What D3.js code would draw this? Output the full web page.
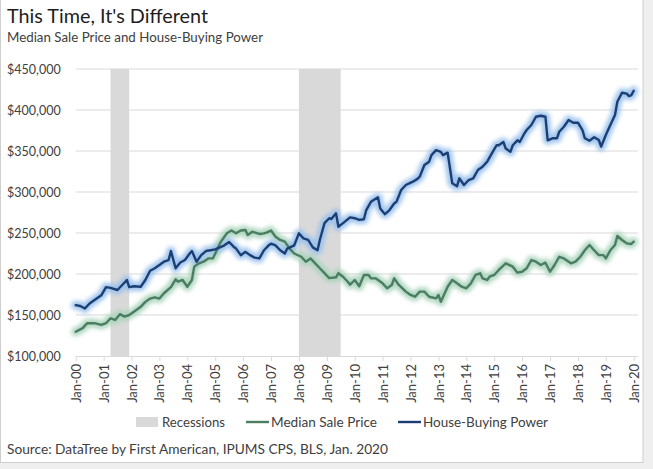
<!DOCTYPE html>
<html>
<head>
<meta charset="utf-8">
<script src="https://cdn.jsdelivr.net/npm/d3@7"></script>
<style>
  html, body { margin: 0; padding: 0; background: #ffffff; }
  svg { display: block; }
  text { font-family: Lato, "Open Sans", sans-serif; }
</style>
</head>
<body>
<svg id="chart" width="653" height="469"></svg>
<script>
// ---------- DATA ----------
const titleText = "This Time, It's Different";
const subtitleText = "Median Sale Price and House-Buying Power";
const sourceText = "Source: DataTree by First American, IPUMS CPS, BLS, Jan. 2020";
const seriesNames = ["Recessions", "Median Sale Price", "House-Buying Power"];

const yTickValues = [100000, 150000, 200000, 250000, 300000, 350000, 400000, 450000];
const xTickYears = [2000, 2001, 2002, 2003, 2004, 2005, 2006, 2007, 2008, 2009, 2010,
                    2011, 2012, 2013, 2014, 2015, 2016, 2017, 2018, 2019, 2020];

const recessionStarts = ["2001-04", "2008-01"];
const recessionEnds   = ["2001-12", "2009-07"];

const buyingPowerDates = [
  "2000-01","2000-03","2000-05","2000-07","2000-10","2000-12","2001-02","2001-04","2001-07","2001-09",
  "2001-11","2001-12","2002-02","2002-05","2002-07","2002-09","2002-11","2003-01","2003-03","2003-05",
  "2003-06","2003-08","2003-10","2003-12","2004-02","2004-03","2004-05","2004-07","2004-09","2004-11",
  "2005-01","2005-03","2005-05","2005-07","2005-09","2005-10","2005-12","2006-02","2006-04","2006-06",
  "2006-08","2006-10","2006-12","2007-01","2007-03","2007-05","2007-07","2007-08","2007-11","2008-01",
  "2008-03","2008-05","2008-07","2008-09","2008-10","2008-12","2009-02","2009-03","2009-05","2009-06",
  "2009-08","2009-11","2010-01","2010-03","2010-05","2010-06","2010-08","2010-11","2010-12","2011-02",
  "2011-04","2011-06","2011-07","2011-09","2011-11","2012-02","2012-04","2012-05","2012-07","2012-09",
  "2012-10","2012-12","2013-02","2013-03","2013-05","2013-06","2013-07","2013-09","2013-10","2013-12",
  "2014-02","2014-04","2014-06","2014-08","2014-10","2014-12","2015-02","2015-03","2015-05","2015-06",
  "2015-08","2015-09","2015-11","2015-12","2016-02","2016-03","2016-05","2016-07","2016-09","2016-11",
  "2016-12","2017-02","2017-04","2017-05","2017-07","2017-09","2017-11","2018-01","2018-03","2018-04",
  "2018-06","2018-08","2018-10","2018-11","2019-01","2019-03","2019-05","2019-06","2019-08","2019-10",
  "2019-11","2019-12","2020-01"
];
const buyingPowerValues = [
  162000,161000,158000,164000,170000,174000,184000,183000,180500,186600,
  192700,184000,185000,184500,192700,204000,207000,211000,215000,217000,
  228000,207000,214000,217000,225000,228000,215000,223000,228000,229000,
  230000,232500,235000,239000,233000,231000,223000,227000,223000,220000,
  219000,229000,235000,237000,235000,229000,225000,231000,235000,249600,
  243500,241500,232500,229000,241500,262000,268000,267000,274000,257700,
  262000,269000,268000,266000,266700,278000,288000,293500,280000,273000,
  278000,286000,288000,302400,308500,312600,316000,318700,333000,337000,
  345000,351000,349000,345000,348000,329000,310600,307000,316700,308500,
  314600,316700,326800,330800,337000,347000,357000,357000,361000,353000,
  349000,357000,363000,361000,371600,375600,381700,391800,393000,391800,
  363000,365500,365500,373500,379600,387800,384500,384500,375600,365500,
  362600,366700,363400,355300,369500,381700,394000,410000,421000,420000,
  417000,418000,423500
];

const salePriceDates = [
  "2000-01","2000-04","2000-06","2000-09","2000-12","2001-02","2001-04","2001-06","2001-08","2001-10",
  "2001-12","2002-02","2002-05","2002-07","2002-09","2002-11","2003-01","2003-03","2003-06","2003-08",
  "2003-09","2003-11","2004-01","2004-03","2004-04","2004-06","2004-08","2004-10","2004-12","2005-02",
  "2005-03","2005-04","2005-06","2005-08","2005-10","2005-12","2006-02","2006-03","2006-05","2006-08",
  "2006-10","2006-11","2007-01","2007-03","2007-05","2007-07","2007-09","2007-11","2008-02","2008-04",
  "2008-06","2008-08","2008-10","2008-12","2009-02","2009-05","2009-06","2009-08","2009-10","2009-11",
  "2010-01","2010-03","2010-05","2010-07","2010-08","2010-10","2011-01","2011-03","2011-05","2011-06",
  "2011-08","2011-11","2012-01","2012-03","2012-05","2012-07","2012-09","2012-12","2013-01","2013-02",
  "2013-05","2013-07","2013-09","2013-11","2014-01","2014-03","2014-05","2014-07","2014-08","2014-10",
  "2014-11","2015-01","2015-03","2015-06","2015-09","2015-11","2016-01","2016-03","2016-05","2016-07",
  "2016-09","2016-11","2017-01","2017-03","2017-05","2017-07","2017-10","2017-12","2018-02","2018-04",
  "2018-06","2018-08","2018-10","2018-12","2019-01","2019-03","2019-05","2019-06","2019-08","2019-10",
  "2019-12","2020-01"
];
const salePriceValues = [
  129600,134000,140000,140000,138000,140000,146000,144000,151000,148000,
  150000,154000,160000,166000,170000,171600,170000,176500,184000,193500,
  190600,192700,184500,192700,209000,213000,215000,219000,219000,231000,
  237000,241500,249600,253000,249600,253000,253700,247600,251600,248800,
  249600,250400,253000,245500,241500,239400,231000,225000,221000,215000,
  219000,213000,207000,201000,195000,196000,201000,196700,190600,187000,
  192700,185000,198800,198800,194700,194700,188600,182600,186600,194700,
  186600,178500,174400,172300,178500,178500,172300,170300,174400,166200,
  184500,192700,188600,184500,182600,188600,198800,200900,194700,192700,
  196700,198800,204900,213000,208900,201600,202800,207000,217000,215000,
  211000,213800,202800,211000,221000,219000,213000,215000,221000,229000,
  235400,229000,223000,223000,219000,229000,235400,246300,241500,237400,
  236600,239400
];

// ---------- LAYOUT ----------
const svg = d3.select("#chart");
const W = 653, H = 469;
const plotLeft = 75.7, plotRight = 638, plotTop = 69, plotBottom = 356;
const parseMonth = d3.timeParse("%Y-%m");

const x = d3.scaleTime()
  .domain([new Date(2000, 0, 1), new Date(2020, 0, 1)])
  .range([plotLeft, 633.7]);
const y = d3.scaleLinear().domain([100000, 450000]).range([plotBottom, plotTop]);

// frame / background
svg.append("rect").attr("x", 0).attr("y", 0).attr("width", W).attr("height", H).attr("fill", "#efefef");
svg.append("rect").attr("x", 0.5).attr("y", -1).attr("width", 642.5).attr("height", 463.5)
  .attr("fill", "#ffffff").attr("stroke", "#cfcfcf").attr("stroke-width", 1);

const defs = svg.append("defs");
defs.append("filter").attr("id", "glow").attr("x", "-5%").attr("y", "-20%").attr("width", "110%").attr("height", "140%")
  .append("feGaussianBlur").attr("stdDeviation", 2);

// gridlines
svg.append("g").selectAll("line").data(yTickValues.filter(v => v > 100000)).join("line")
  .attr("x1", plotLeft).attr("x2", plotRight)
  .attr("y1", d => y(d)).attr("y2", d => y(d))
  .attr("stroke", "#d9d9d9").attr("stroke-width", 1);

// recessions
const rec = recessionStarts.map((s, i) => ({ s: parseMonth(s), e: parseMonth(recessionEnds[i]) }));
svg.append("g").selectAll("rect").data(rec).join("rect")
  .attr("x", d => x(d.s)).attr("width", d => x(d.e) - x(d.s))
  .attr("y", plotTop).attr("height", plotBottom - plotTop)
  .attr("fill", "#d9d9d9");

// y axis
const yAxis = svg.append("g").attr("transform", `translate(${plotLeft},0)`)
  .call(d3.axisLeft(y).tickValues(yTickValues).tickSize(0).tickPadding(15)
    .tickFormat(d => "$" + d3.format(",")(d)));
yAxis.select(".domain").remove();
yAxis.selectAll("text").attr("font-size", 12.5).attr("fill", "#404040")
  .attr("font-family", "Lato, sans-serif").attr("dy", "0.34em");

// x axis
const xAxis = svg.append("g").attr("transform", `translate(0,${plotBottom})`)
  .call(d3.axisBottom(x).tickValues(xTickYears.map(yr => new Date(yr, 0, 1)))
    .tickSize(5).tickFormat(d3.timeFormat("Jan-%y")));
xAxis.select(".domain").attr("d", `M${plotLeft},0.5H${plotRight}`).attr("stroke", "#d9d9d9");
xAxis.selectAll(".tick line").attr("stroke", "#d9d9d9");
xAxis.selectAll("text")
  .attr("font-size", 13).attr("fill", "#404040").attr("font-family", "Lato, sans-serif")
  .attr("text-anchor", "end")
  .attr("transform", "rotate(-90)")
  .attr("x", -8).attr("y", 0).attr("dy", "0.35em");

// lines
const line = d3.line().x(d => x(d.date)).y(d => y(d.value));
const salePrice = salePriceDates.map((d, i) => ({ date: parseMonth(d), value: salePriceValues[i] }));
const buyingPower = buyingPowerDates.map((d, i) => ({ date: parseMonth(d), value: buyingPowerValues[i] }));

const series = [
  { data: salePrice, color: "#4a7d62", glow: "#a9d3bb" },
  { data: buyingPower, color: "#1b3f75", glow: "#97bfeb" }
];
series.forEach(s => {
  svg.append("path").datum(s.data).attr("d", line)
    .attr("fill", "none").attr("stroke", s.glow).attr("stroke-width", 9)
    .attr("stroke-linejoin", "round").attr("stroke-linecap", "round")
    .attr("filter", "url(#glow)").attr("opacity", 0.9);
});
series.forEach(s => {
  svg.append("path").datum(s.data).attr("d", line)
    .attr("fill", "none").attr("stroke", s.color).attr("stroke-width", 2.4)
    .attr("stroke-linejoin", "round").attr("stroke-linecap", "round");
});

// title / subtitle
svg.append("text").attr("x", 7).attr("y", 23).text(titleText)
  .attr("font-size", 20).attr("fill", "#1e1e1e").attr("textLength", 201).attr("lengthAdjust", "spacingAndGlyphs");
svg.append("text").attr("x", 7).attr("y", 42).text(subtitleText)
  .attr("font-size", 12.5).attr("fill", "#404040").attr("textLength", 256).attr("lengthAdjust", "spacingAndGlyphs");

// legend
const lg = svg.append("g");
lg.append("rect").attr("x", 136).attr("y", 417).attr("width", 22).attr("height", 10).attr("fill", "#d9d9d9");
lg.append("text").attr("x", 162).attr("y", 426.5).text(seriesNames[0]).attr("font-size", 13)
  .attr("fill", "#404040").attr("textLength", 63).attr("lengthAdjust", "spacingAndGlyphs");
lg.append("line").attr("x1", 246).attr("x2", 269).attr("y1", 422).attr("y2", 422).attr("stroke", "#4a7d62").attr("stroke-width", 2.4);
lg.append("text").attr("x", 271).attr("y", 426.5).text(seriesNames[1]).attr("font-size", 13)
  .attr("fill", "#404040").attr("textLength", 106).attr("lengthAdjust", "spacingAndGlyphs");
lg.append("line").attr("x1", 398).attr("x2", 421).attr("y1", 422).attr("y2", 422).attr("stroke", "#1b3f75").attr("stroke-width", 2.4);
lg.append("text").attr("x", 423).attr("y", 426.5).text(seriesNames[2]).attr("font-size", 13)
  .attr("fill", "#404040").attr("textLength", 125).attr("lengthAdjust", "spacingAndGlyphs");

// source
svg.append("text").attr("x", 7).attr("y", 453.5).text(sourceText)
  .attr("font-size", 13).attr("fill", "#404040").attr("textLength", 381).attr("lengthAdjust", "spacingAndGlyphs");
</script>
</body>
</html>
